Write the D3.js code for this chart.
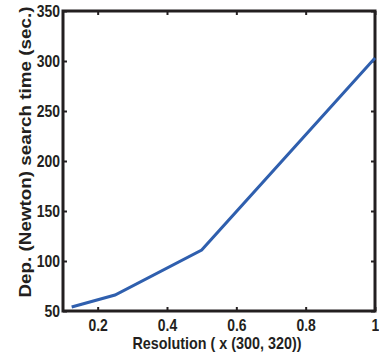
<!DOCTYPE html>
<html>
<head>
<meta charset="utf-8">
<script src="https://cdn.jsdelivr.net/npm/d3@7"></script>
<style>
  body { margin: 0; background: #fff; }
  text { font-family: "Liberation Sans", Arial, sans-serif; font-weight: bold; fill: #231f20; }
</style>
</head>
<body>
<svg width="379" height="356"></svg>
<script>
const resolution = [0.125, 0.25, 0.5, 1];
const searchTime = [54, 66, 111, 303];
const xTicks = [0.2, 0.4, 0.6, 0.8, 1];
const yTicks = [50, 100, 150, 200, 250, 300, 350];

const svg = d3.select('svg');
const m = { left: 63, top: 11, right: 375, bottom: 311 };

const x = d3.scaleLinear().domain([0.1, 1]).range([m.left, m.right]);
const y = d3.scaleLinear().domain([50, 350]).range([m.bottom, m.top]);

// squeeze text horizontally to look like a condensed bold face
function narrow(sel, k) {
  sel.each(function() {
    const w = this.getComputedTextLength();
    d3.select(this).attr('textLength', w * k).attr('lengthAdjust', 'spacingAndGlyphs');
  });
}

// ticks inside, on all four sides
svg.append('g').attr('transform', `translate(0,${m.bottom})`)
  .call(d3.axisBottom(x).tickValues(xTicks).tickSize(-4).tickPadding(8).tickFormat(d3.format('')));
svg.append('g').attr('transform', `translate(${m.left},0)`)
  .call(d3.axisLeft(y).tickValues(yTicks).tickSize(-4).tickPadding(3));
svg.append('g').attr('transform', `translate(0,${m.top})`)
  .call(d3.axisTop(x).tickValues(xTicks).tickSize(-4).tickFormat(''));
svg.append('g').attr('transform', `translate(${m.right},0)`)
  .call(d3.axisRight(y).tickValues(yTicks).tickSize(-4).tickFormat(''));

svg.selectAll('.domain').remove();
svg.selectAll('.tick line').attr('stroke', '#231f20').attr('stroke-width', 2);
svg.selectAll('.tick text').style('font-size', '17px').attr('fill', '#231f20').call(narrow, 0.82);

// frame
svg.append('rect')
  .attr('x', m.left).attr('y', m.top)
  .attr('width', m.right - m.left).attr('height', m.bottom - m.top)
  .attr('fill', 'none').attr('stroke', '#231f20').attr('stroke-width', 3);

// data line
svg.append('path')
  .datum(resolution.map((r, i) => [r, searchTime[i]]))
  .attr('fill', 'none')
  .attr('stroke', '#2f5fae')
  .attr('stroke-width', 3)
  .attr('d', d3.line().x(d => x(d[0])).y(d => y(d[1])));

// axis titles
svg.append('text')
  .attr('x', 217).attr('y', 349)
  .attr('text-anchor', 'middle').style('font-size', '17px')
  .text('Resolution ( x (300, 320))')
  .attr('textLength', 169).attr('lengthAdjust', 'spacingAndGlyphs');

svg.append('text')
  .attr('transform', `translate(31,152) rotate(-90)`)
  .attr('text-anchor', 'middle').style('font-size', '17px')
  .text('Dep. (Newton) search time (sec.)')
  .attr('textLength', 291).attr('lengthAdjust', 'spacingAndGlyphs');
</script>
</body>
</html>
